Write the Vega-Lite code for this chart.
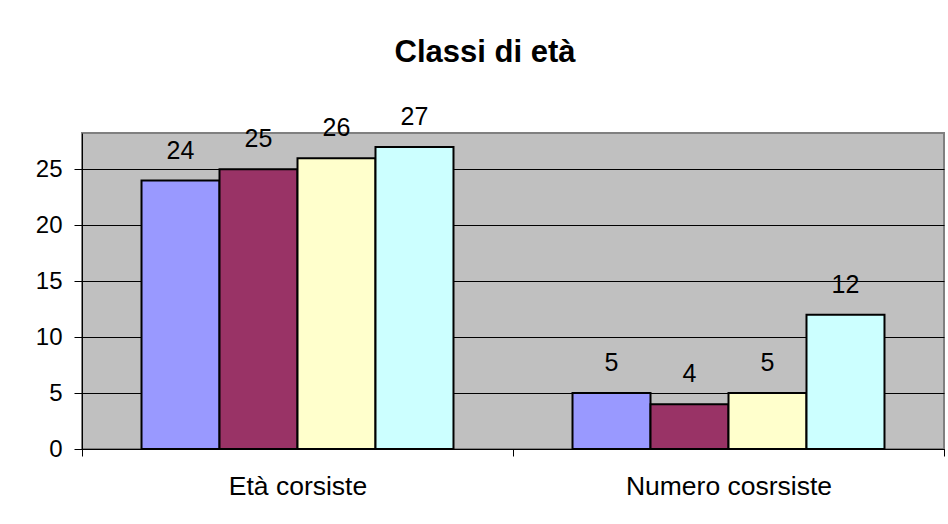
{
  "$schema": "https://vega.github.io/schema/vega-lite/v6.json",
  "width": 862,
  "height": 316,
  "autosize": {"type": "none"},
  "padding": {"left": 82, "top": 133, "right": 4, "bottom": 75},
  "background": "white",
  "title": {
    "text": "Classi di età",
    "font": "Liberation Sans",
    "fontSize": 31,
    "fontWeight": "bold",
    "color": "black",
    "anchor": "middle",
    "frame": "group",
    "baseline": "alphabetic",
    "offset": 12,
    "dx": -28
  },
  "data": {
    "values": [
      {"categoria": "Età corsiste", "serie": "Serie1", "valore": 24},
      {"categoria": "Età corsiste", "serie": "Serie2", "valore": 25},
      {"categoria": "Età corsiste", "serie": "Serie3", "valore": 26},
      {"categoria": "Età corsiste", "serie": "Serie4", "valore": 27},
      {"categoria": "Numero cosrsiste", "serie": "Serie1", "valore": 5},
      {"categoria": "Numero cosrsiste", "serie": "Serie2", "valore": 4},
      {"categoria": "Numero cosrsiste", "serie": "Serie3", "valore": 5},
      {"categoria": "Numero cosrsiste", "serie": "Serie4", "valore": 12}
    ]
  },
  "encoding": {
    "x": {
      "field": "categoria",
      "type": "nominal",
      "sort": ["Età corsiste", "Numero cosrsiste"],
      "scale": {"paddingInner": 0, "paddingOuter": 0},
      "axis": {
        "title": null,
        "labelAngle": 0,
        "labelFont": "Liberation Sans",
        "labelFontSize": 26.5,
        "labelColor": "black",
        "labelPadding": 17,
        "labelLimit": 600,
        "domainColor": "black",
        "domainWidth": 1,
        "tickColor": "black",
        "tickSize": 7,
        "tickBand": "extent",
        "grid": false
      }
    },
    "xOffset": {
      "field": "serie",
      "type": "nominal",
      "scale": {"paddingInner": 0, "paddingOuter": 0.763}
    },
    "y": {
      "field": "valore",
      "type": "quantitative",
      "scale": {"domain": [0, 28.25], "nice": false},
      "axis": {
        "title": null,
        "values": [0, 5, 10, 15, 20, 25],
        "labelFont": "Liberation Sans",
        "labelFontSize": 24,
        "labelColor": "black",
        "labelPadding": 12,
        "domainColor": "black",
        "domainWidth": 1,
        "tickColor": "black",
        "tickSize": 8,
        "grid": true,
        "gridColor": "black",
        "gridOpacity": 1,
        "gridWidth": 1
      }
    }
  },
  "layer": [
    {
      "mark": {"type": "bar", "stroke": "black", "strokeWidth": 2},
      "encoding": {
        "color": {
          "field": "serie",
          "type": "nominal",
          "scale": {"domain": ["Serie1", "Serie2", "Serie3", "Serie4"], "range": ["#9999FF", "#993366", "#FFFFCC", "#CCFFFF"]},
          "legend": null
        }
      }
    },
    {
      "mark": {"type": "text", "baseline": "alphabetic", "dy": -22, "font": "Liberation Sans", "fontSize": 25, "color": "black"},
      "encoding": {"text": {"field": "valore", "type": "quantitative"}}
    }
  ],
  "config": {
    "view": {"fill": "#C0C0C0", "stroke": "#808080", "strokeWidth": 2}
  }
}
